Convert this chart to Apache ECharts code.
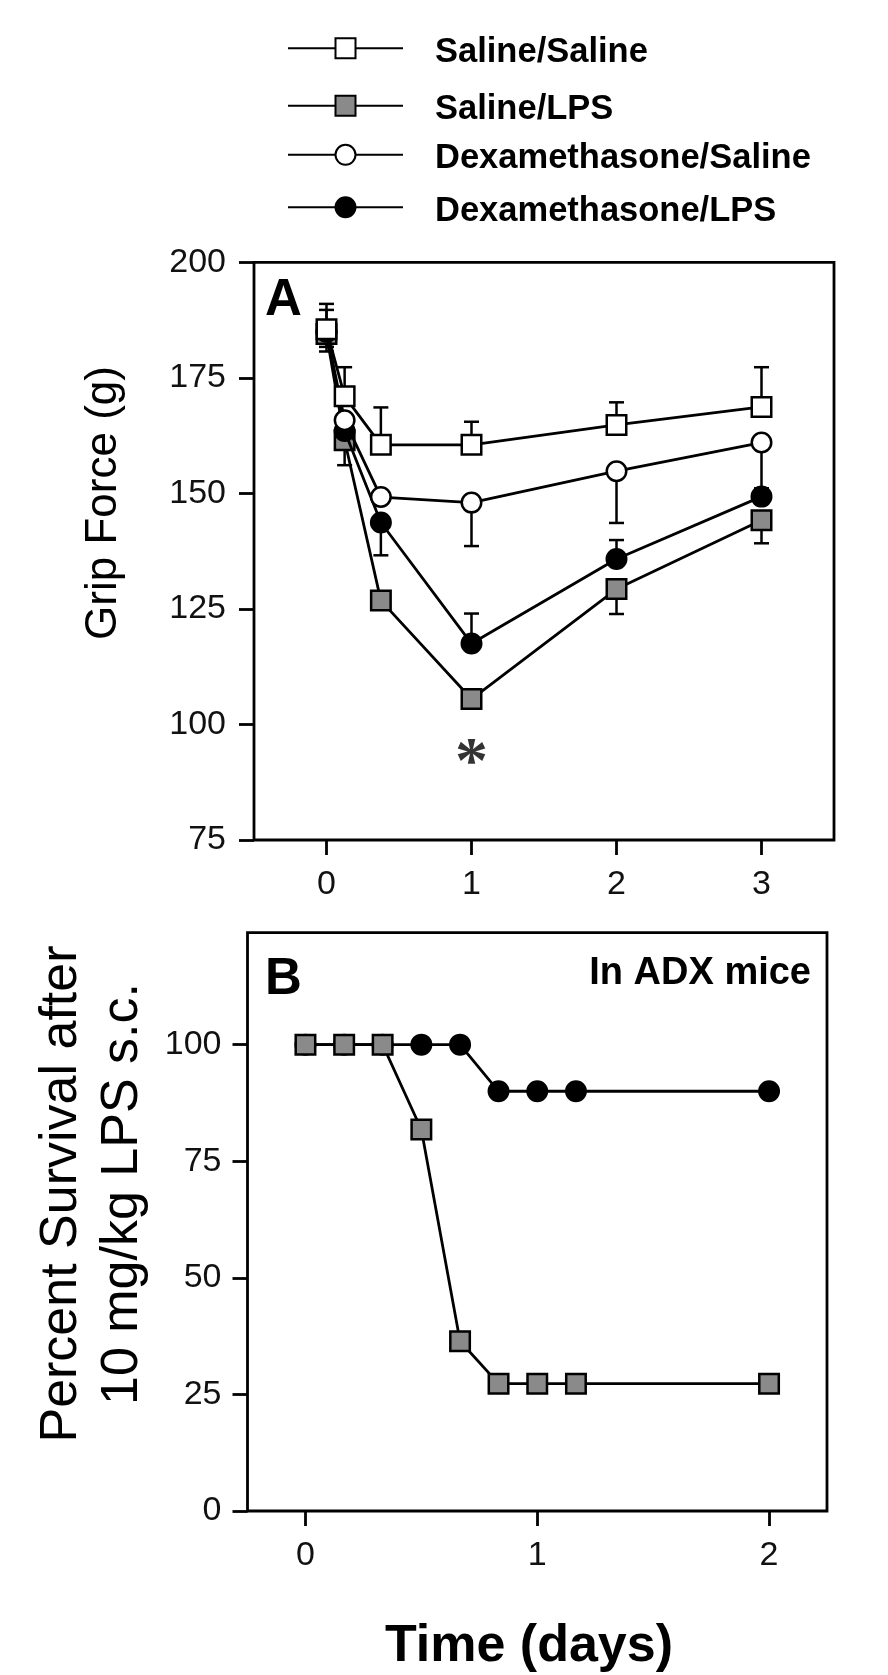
<!DOCTYPE html>
<html>
<head>
<meta charset="utf-8">
<script src="https://cdn.jsdelivr.net/npm/echarts@6/dist/echarts.min.js"></script>
<style>
html,body{margin:0;padding:0;background:#fff;}
#chart{width:888px;height:1675px;}
</style>
</head>
<body>
<div id="chart"></div>
<script>
// ---------- Panel A data: grip force (g) ----------
const timeA = [0, 0.125, 0.375, 1, 2, 3];
const salineSaline    = [185.5, 171.0, 160.5, 160.5, 164.8, 168.7];
const salineSalineErr = [191.0, 177.3, 168.6, 165.5, 169.7, 177.3];
const salineLPS       = [184.5, 161.5, 126.8, 105.5, 129.3, 144.2];
const salineLPSErr    = [180.7, 156.1, null, null, 123.9, 139.2];
const dexSaline       = [185.0, 165.8, 149.2, 148.0, 154.8, 161.0];
const dexSalineErr    = [181.7, null, null, 138.6, 143.6, 150.5];
const dexLPS          = [185.0, 163.5, 143.7, 117.5, 135.8, 149.3];
const dexLPSErr       = [189.7, null, 136.6, 124.0, 139.9, 151.1];
const asteriskPoint   = [1, 93.5];

// ---------- Panel B data: percent survival ----------
const timeB = [0, 0.167, 0.333, 0.5, 0.667, 0.833, 1, 1.167, 2];
const survSalineLPS = [100, 100, 100, 81.8, 36.4, 27.3, 27.3, 27.3, 27.3];
const survDexLPS    = [100, 100, 100, 100, 100, 90, 90, 90, 90];

// ---------- tick labels ----------
const yTicksA = [75, 100, 125, 150, 175, 200];
const xTicksA = [0, 1, 2, 3];
const yTicksB = [0, 25, 50, 75, 100];
const xTicksB = [0, 1, 2];

const names = ['Saline/Saline', 'Saline/LPS', 'Dexamethasone/Saline', 'Dexamethasone/LPS'];

const FONT = '"Liberation Sans", Arial, Helvetica, sans-serif';
const INK = '#000';
const GREY = '#8a8a8a';

function pairs(xs, ys) { return xs.map((x, i) => [x, ys[i]]); }
function errPairs(xs, ys, es) {
  const out = [];
  xs.forEach((x, i) => { if (es[i] != null) out.push([x, ys[i], es[i]]); });
  return out;
}

function errRender(params, api) {
  const p0 = api.coord([api.value(0), api.value(1)]);
  const p1 = api.coord([api.value(0), api.value(2)]);
  const hw = 7.5;
  const st = { stroke: INK, lineWidth: 2.5 };
  return {
    type: 'group',
    children: [
      { type: 'line', shape: { x1: p0[0], y1: p0[1], x2: p1[0], y2: p1[1] }, style: st },
      { type: 'line', shape: { x1: p1[0] - hw, y1: p1[1], x2: p1[0] + hw, y2: p1[1] }, style: st }
    ]
  };
}

const SYM = 19.5;
function lineSeries(name, xs, ys, symbol, fill, gridIdx, z) {
  return {
    name: name, type: 'line', xAxisIndex: gridIdx, yAxisIndex: gridIdx,
    data: pairs(xs, ys), symbol: symbol, symbolSize: SYM, showSymbol: true,
    lineStyle: { color: INK, width: 2.8 },
    itemStyle: { color: fill, borderColor: INK, borderWidth: 2.5 },
    emphasis: { disabled: true }, animation: false, z: z
  };
}
function errSeries(xs, ys, es, gridIdx) {
  return {
    type: 'custom', xAxisIndex: gridIdx, yAxisIndex: gridIdx,
    data: errPairs(xs, ys, es), renderItem: errRender,
    encode: { x: 0, y: [1, 2] }, z: 1, animation: false, silent: true
  };
}

const axisCommon = {
  axisLine: { show: false, onZero: false },
  axisTick: { show: true, inside: false, length: 15, lineStyle: { color: INK, width: 2.8 } },
  splitLine: { show: false },
  axisLabel: { color: '#111', fontSize: 34, fontFamily: FONT }
};

function legendFor(name, cy) {
  return {
    data: [name], left: 287, top: cy - 13, orient: 'vertical', padding: 0,
    itemWidth: 115, itemHeight: 25, selectedMode: false,
    formatter: '{t|{name}}',
    textStyle: {
      rich: { t: { fontSize: 34.5, fontWeight: 'bold', fontFamily: FONT, color: INK, padding: [8, 0, 0, 27] } }
    }
  };
}

const option = {
  backgroundColor: '#fff',
  animation: false,
  legend: [
    legendFor(names[0], 47.7),
    legendFor(names[1], 105.3),
    legendFor(names[2], 154.3),
    legendFor(names[3], 206.7)
  ],
  grid: [
    { left: 254, top: 262.3, width: 580, height: 577.7, show: true, borderColor: INK, borderWidth: 2.8,
      backgroundColor: 'transparent', containLabel: false, outerBoundsMode: 'none' },
    { left: 247.5, top: 932.7, width: 579.5, height: 578.3, show: true, borderColor: INK, borderWidth: 2.8,
      backgroundColor: 'transparent', containLabel: false, outerBoundsMode: 'none' }
  ],
  xAxis: [
    Object.assign({}, axisCommon, {
      type: 'value', gridIndex: 0, min: -0.5, max: 3.5,
      axisTick: Object.assign({}, axisCommon.axisTick, { customValues: xTicksA }),
      axisLabel: Object.assign({}, axisCommon.axisLabel, { customValues: xTicksA, margin: 28 })
    }),
    Object.assign({}, axisCommon, {
      type: 'value', gridIndex: 1, min: -0.25, max: 2.25,
      axisTick: Object.assign({}, axisCommon.axisTick, { customValues: xTicksB }),
      axisLabel: Object.assign({}, axisCommon.axisLabel, { customValues: xTicksB, margin: 28 })
    })
  ],
  yAxis: [
    Object.assign({}, axisCommon, {
      type: 'value', gridIndex: 0, min: 75, max: 200,
      axisTick: Object.assign({}, axisCommon.axisTick, { customValues: yTicksA }),
      axisLabel: Object.assign({}, axisCommon.axisLabel, { customValues: yTicksA, margin: 28 })
    }),
    Object.assign({}, axisCommon, {
      type: 'value', gridIndex: 1, min: 0, max: 124,
      axisTick: Object.assign({}, axisCommon.axisTick, { customValues: yTicksB }),
      axisLabel: Object.assign({}, axisCommon.axisLabel, { customValues: yTicksB, margin: 26 })
    })
  ],
  series: [
    errSeries(timeA, salineLPS, salineLPSErr, 0),
    errSeries(timeA, dexLPS, dexLPSErr, 0),
    errSeries(timeA, dexSaline, dexSalineErr, 0),
    errSeries(timeA, salineSaline, salineSalineErr, 0),
    lineSeries(names[1], timeA, salineLPS, 'rect', GREY, 0, 2),
    lineSeries(names[3], timeA, dexLPS, 'circle', INK, 0, 3),
    lineSeries(names[2], timeA, dexSaline, 'circle', '#fff', 0, 4),
    lineSeries(names[0], timeA, salineSaline, 'rect', '#fff', 0, 5),
    {
      type: 'scatter', xAxisIndex: 0, yAxisIndex: 0, data: [asteriskPoint],
      symbol: 'circle', symbolSize: 1, itemStyle: { color: 'rgba(0,0,0,0)' },
      silent: true, animation: false, z: 6,
      label: { show: true, position: 'inside', formatter: '*', fontSize: 66, fontWeight: 'bold',
               fontFamily: '"Liberation Serif", "Times New Roman", serif', color: INK, offset: [0, 10] }
    },
    lineSeries('B Dexamethasone/LPS', timeB, survDexLPS, 'circle', INK, 1, 3),
    lineSeries('B Saline/LPS', timeB, survSalineLPS, 'rect', GREY, 1, 4)
  ],
  graphic: [
    { type: 'text', left: 265, top: 275, style: { text: 'A', fontSize: 51, fontWeight: 'bold', fontFamily: FONT, fill: INK } },
    { type: 'text', left: 265, top: 954, style: { text: 'B', fontSize: 51, fontWeight: 'bold', fontFamily: FONT, fill: INK } },
    { type: 'text', right: 888 - 811, top: 955, style: { text: 'In ADX mice', fontSize: 38, fontWeight: 'bold', fontFamily: FONT, fill: INK } },
    { type: 'text', x: 104, y: 503, rotation: Math.PI / 2,
      style: { text: 'Grip Force (g)', fontSize: 44, fontFamily: FONT, fill: INK, align: 'center', verticalAlign: 'middle' } },
    { type: 'text', x: 92, y: 1194, rotation: Math.PI / 2,
      style: { text: 'Percent Survival after\n10 mg/kg LPS s.c.', fontSize: 52, lineHeight: 61, fontFamily: FONT, fill: INK,
               align: 'center', verticalAlign: 'middle' } },
    { type: 'text', x: 529, y: 1647,
      style: { text: 'Time (days)', fontSize: 52, fontWeight: 'bold', fontFamily: FONT, fill: INK, align: 'center', verticalAlign: 'middle' } }
  ]
};

const chart = echarts.init(document.getElementById('chart'), null, { renderer: 'canvas', width: 888, height: 1675 });
chart.setOption(option);
</script>
</body>
</html>
